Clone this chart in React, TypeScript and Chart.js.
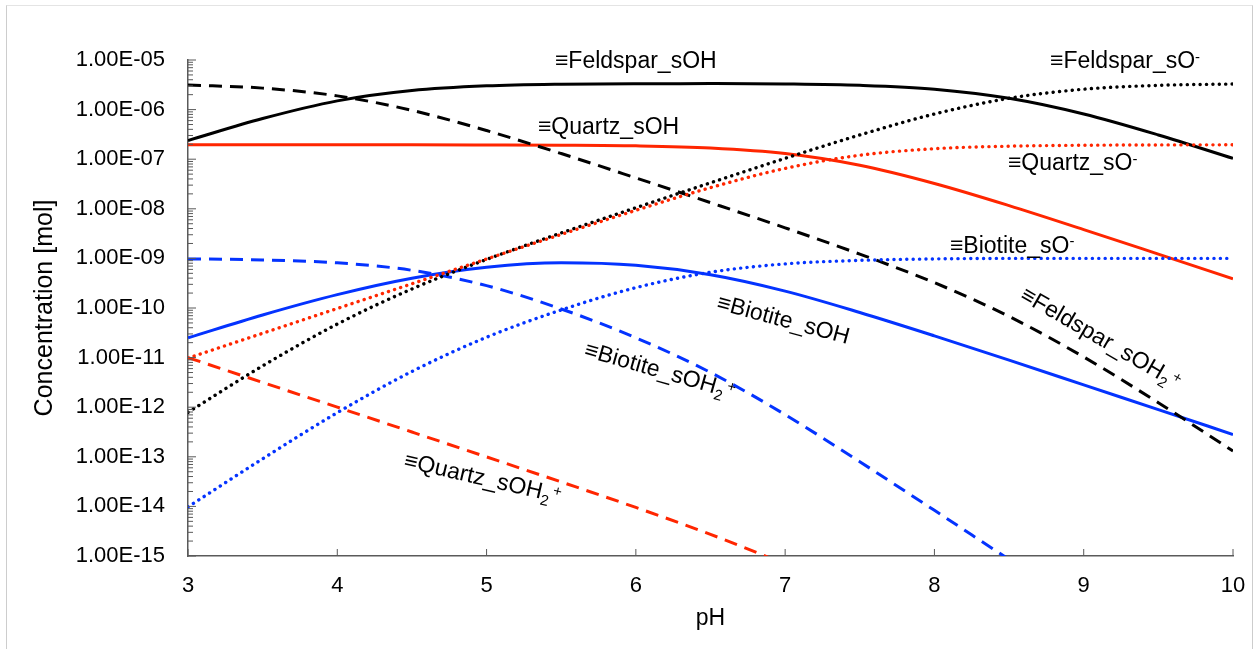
import { useEffect, useRef } from 'react';
import { Chart, registerables } from 'chart.js';

Chart.register(...registerables);

const FONT = '"Liberation Sans", Arial, Helvetica, sans-serif';

// pH grid shared by every curve
const pH = [3, 3.5, 4, 4.5, 5, 5.5, 6, 6.5, 7, 7.5, 8, 8.5, 9, 9.5, 10];

// Feldspar surface species [mol]
const feldsparSOH2 = [3.14e-6, 2.71e-6, 1.89e-6, 9.64e-7, 3.78e-7, 1.30e-7, 4.20e-8, 1.33e-8, 4.13e-9, 1.22e-9, 3.24e-10, 6.75e-11, 1.03e-11, 1.23e-12, 1.31e-13];
const feldsparSOH = [2.38e-7, 6.6e-7, 1.50e-6, 2.42e-6, 3.01e-6, 3.26e-6, 3.33e-6, 3.34e-6, 3.28e-6, 3.08e-6, 2.58e-6, 1.69e-6, 8.15e-7, 3.08e-7, 1.04e-7];
const feldsparSO = [7.89e-13, 6.81e-12, 4.74e-11, 2.42e-10, 9.51e-10, 3.26e-9, 1.05e-8, 3.34e-8, 1.04e-7, 3.08e-7, 8.15e-7, 1.69e-6, 2.58e-6, 3.08e-6, 3.28e-6];

// Quartz surface species [mol]
const quartzSOH2 = [1.00e-11, 3.16e-12, 1.00e-12, 3.16e-13, 9.95e-14, 3.11e-14, 9.53e-15, 2.73e-15, 6.67e-16, 1.22e-16, null, null, null, null, null];
const quartzSOH = [1.95e-7, 1.95e-7, 1.95e-7, 1.95e-7, 1.94e-7, 1.92e-7, 1.86e-7, 1.68e-7, 1.30e-7, 7.55e-8, 3.24e-8, 1.16e-8, 3.81e-9, 1.22e-9, 3.88e-10];
const quartzSO = [9.77e-12, 3.09e-11, 9.77e-11, 3.08e-10, 9.73e-10, 3.04e-9, 9.31e-9, 2.67e-8, 6.52e-8, 1.20e-7, 1.63e-7, 1.83e-7, 1.91e-7, 1.94e-7, 1.95e-7];

// Biotite surface species [mol]
const biotiteSOH2 = [9.77e-10, 9.33e-10, 8.13e-10, 5.75e-10, 2.82e-10, 9.55e-11, 2.51e-11, 5.01e-12, 7.08e-13, 7.94e-14, 8.32e-15, 8.51e-16, 8.91e-17, null, null];
const biotiteSOH = [2.51e-11, 7.24e-11, 1.86e-10, 3.98e-10, 6.61e-10, 8.13e-10, 7.24e-10, 4.68e-10, 2.19e-10, 8.13e-11, 2.75e-11, 8.91e-12, 2.82e-12, 8.91e-13, 2.82e-13];
const biotiteSO = [9.77e-15, 9.12e-14, 7.76e-13, 5.25e-12, 2.57e-11, 9.12e-11, 2.57e-10, 5.25e-10, 7.76e-10, 9.12e-10, 9.77e-10, 1.00e-9, 1.00e-9, 1.00e-9, 1.00e-9];

// Axis ticks
const xTickValues = [3, 4, 5, 6, 7, 8, 9, 10];
const xTickLabels = ['3', '4', '5', '6', '7', '8', '9', '10'];
const yTickValues = [1e-15, 1e-14, 1e-13, 1e-12, 1e-11, 1e-10, 1e-9, 1e-8, 1e-7, 1e-6, 1e-5];
const yTickLabels = ['1.00E-15', '1.00E-14', '1.00E-13', '1.00E-12', '1.00E-11', '1.00E-10', '1.00E-09', '1.00E-08', '1.00E-07', '1.00E-06', '1.00E-05'];

const xTitle = 'pH';
const yTitle = 'Concentration [mol]';

const BLACK = '#000000';
const RED = '#FF2600';
const BLUE = '#0433FF';

type Part = { text: string; kind?: 'sub' | 'sup' };
type Note = { parts: Part[]; at: [number, number]; angle: number };

// Curve labels, anchored at the start of their baseline in data units
const notes: Note[] = [
  { parts: [{ text: '≡Feldspar_sOH' }], at: [5.458, 6.9e-6], angle: 0 },
  { parts: [{ text: '≡Feldspar_sO' }, { text: '-', kind: 'sup' }], at: [8.774, 6.9e-6], angle: 0 },
  { parts: [{ text: '≡Quartz_sOH' }], at: [5.344, 3.22e-7], angle: 0 },
  { parts: [{ text: '≡Quartz_sO' }, { text: '-', kind: 'sup' }], at: [8.492, 6.05e-8], angle: 0 },
  { parts: [{ text: '≡Biotite_sO' }, { text: '-', kind: 'sup' }], at: [8.104, 1.29e-9], angle: 0 },
  { parts: [{ text: '≡Feldspar_sOH' }, { text: '2', kind: 'sub' }, { text: '+', kind: 'sup' }], at: [8.566, 1.52e-10], angle: 30 },
  { parts: [{ text: '≡Biotite_sOH' }], at: [6.536, 9.6e-11], angle: 15 },
  { parts: [{ text: '≡Biotite_sOH' }, { text: '2', kind: 'sub' }, { text: '+', kind: 'sup' }], at: [5.648, 1.08e-11], angle: 16 },
  { parts: [{ text: '≡Quartz_sOH' }, { text: '2', kind: 'sub' }, { text: '+', kind: 'sup' }], at: [4.44, 6.22e-14], angle: 13 },
];

type Style = 'solid' | 'dash' | 'dot';

function series(label: string, values: (number | null)[], color: string, style: Style) {
  return {
    label,
    data: pH
      .map((x, i) => ({ x, y: values[i] }))
      .filter((p) => p.y !== null),
    borderColor: color,
    backgroundColor: color,
    borderWidth: style === 'dot' ? 3.4 : 3,
    borderDash: style === 'dash' ? [13, 8] : style === 'dot' ? [0.1, 6.3] : [],
    borderCapStyle: style === 'dot' ? 'round' : 'butt',
    pointRadius: 0,
    cubicInterpolationMode: 'monotone',
    fill: false,
  };
}

function drawRich(ctx: CanvasRenderingContext2D, parts: Part[], size: number) {
  let cx = 0;
  for (const p of parts) {
    const s = p.kind ? size * 0.65 : size;
    const dy = p.kind === 'sub' ? size * 0.24 : p.kind === 'sup' ? -size * 0.28 : 0;
    ctx.font = `${s}px ${FONT}`;
    ctx.fillText(p.text, cx, dy);
    cx += ctx.measureText(p.text).width + (p.kind === 'sub' ? size * 0.1 : 0);
  }
}

const decorations = {
  id: 'decorations',
  afterDraw(chart: any) {
    const { ctx, chartArea } = chart;
    const xs = chart.scales.x;
    const ys = chart.scales.y;
    ctx.save();

    // inward tick marks
    ctx.strokeStyle = '#595959';
    ctx.lineWidth = 1;
    ctx.beginPath();
    for (const v of xTickValues) {
      const px = xs.getPixelForValue(v);
      ctx.moveTo(px, chartArea.bottom);
      ctx.lineTo(px, chartArea.bottom - 7);
    }
    for (let e = -15; e < -5; e++) {
      for (let m = 1; m <= 9; m++) {
        const py = ys.getPixelForValue(Number(`${m}e${e}`));
        ctx.moveTo(chartArea.left, py);
        ctx.lineTo(chartArea.left + (m === 1 ? 8 : 5), py);
      }
    }
    const top = ys.getPixelForValue(1e-5);
    ctx.moveTo(chartArea.left, top);
    ctx.lineTo(chartArea.left + 8, top);
    ctx.stroke();

    // axis titles
    ctx.fillStyle = '#000';
    ctx.textAlign = 'center';
    ctx.textBaseline = 'middle';
    ctx.font = `23px ${FONT}`;
    ctx.fillText(xTitle, (chartArea.left + chartArea.right) / 2, 619);
    ctx.save();
    ctx.translate(45, (chartArea.top + chartArea.bottom) / 2);
    ctx.rotate(-Math.PI / 2);
    ctx.font = `25px ${FONT}`;
    ctx.fillText(yTitle, 0, 0);
    ctx.restore();

    // curve labels
    ctx.textAlign = 'left';
    ctx.textBaseline = 'alphabetic';
    for (const n of notes) {
      ctx.save();
      ctx.translate(xs.getPixelForValue(n.at[0]), ys.getPixelForValue(n.at[1]));
      ctx.rotate((n.angle * Math.PI) / 180);
      drawRich(ctx, n.parts, 23);
      ctx.restore();
    }
    ctx.restore();
  },
};

export default function App() {
  const ref = useRef<HTMLCanvasElement>(null);

  useEffect(() => {
    const canvas = ref.current;
    if (!canvas) return;
    const chart = new Chart(canvas, {
      type: 'line',
      data: {
        datasets: [
          series('≡Quartz_sOH2+', quartzSOH2, RED, 'dash'),
          series('≡Quartz_sO-', quartzSO, RED, 'dot'),
          series('≡Biotite_sO-', biotiteSO, BLUE, 'dot'),
          series('≡Feldspar_sO-', feldsparSO, BLACK, 'dot'),
          series('≡Biotite_sOH2+', biotiteSOH2, BLUE, 'dash'),
          series('≡Feldspar_sOH2+', feldsparSOH2, BLACK, 'dash'),
          series('≡Biotite_sOH', biotiteSOH, BLUE, 'solid'),
          series('≡Quartz_sOH', quartzSOH, RED, 'solid'),
          series('≡Feldspar_sOH', feldsparSOH, BLACK, 'solid'),
        ] as any,
      },
      options: {
        responsive: false,
        devicePixelRatio: 1,
        animation: false,
        events: [],
        layout: { padding: { top: 60, right: 21, left: 0, bottom: 0 } },
        plugins: { legend: { display: false }, tooltip: { enabled: false } },
        scales: {
          x: {
            type: 'linear',
            position: 'bottom',
            min: 3,
            max: 10,
            afterBuildTicks: (scale: any) => {
              scale.ticks = xTickValues.map((value) => ({ value }));
            },
            afterFit: (scale: any) => {
              scale.height = 93;
              scale.paddingLeft = 0;
              scale.paddingRight = 0;
            },
            ticks: {
              autoSkip: false,
              maxRotation: 0,
              padding: 17,
              color: '#000',
              font: { family: FONT, size: 22 },
              callback: (_v: any, i: number) => xTickLabels[i],
            },
            grid: { display: false, drawTicks: false },
            border: { display: true, color: '#5a5a5a', width: 1.5 },
          },
          y: {
            type: 'logarithmic',
            position: 'left',
            min: 1e-15,
            max: 1e-5,
            afterBuildTicks: (scale: any) => {
              scale.ticks = yTickValues.map((value) => ({ value, major: true }));
            },
            afterFit: (scale: any) => {
              scale.width = 188;
            },
            ticks: {
              autoSkip: false,
              padding: 23,
              color: '#000',
              font: { family: FONT, size: 22 },
              callback: (_v: any, i: number) => yTickLabels[i],
            },
            grid: { display: false, drawTicks: false },
            border: { display: true, color: '#5a5a5a', width: 1.5 },
          },
        },
      } as any,
      plugins: [decorations],
    });
    return () => chart.destroy();
  }, []);

  return (
    <div style={{ position: 'fixed', left: 0, top: 0, width: 1254, height: 649, background: '#fff', overflow: 'hidden' }}>
      <div
        style={{
          position: 'absolute',
          left: 6,
          top: 5,
          width: 1247,
          height: 660,
          boxSizing: 'border-box',
          borderLeft: '1px solid #cdcdcd',
          borderRight: '1px solid #cdcdcd',
          borderTop: '1px solid #e4e4e4',
        }}
      />
      <canvas ref={ref} width={1254} height={649} style={{ position: 'absolute', left: 0, top: 0, width: 1254, height: 649 }} />
    </div>
  );
}
